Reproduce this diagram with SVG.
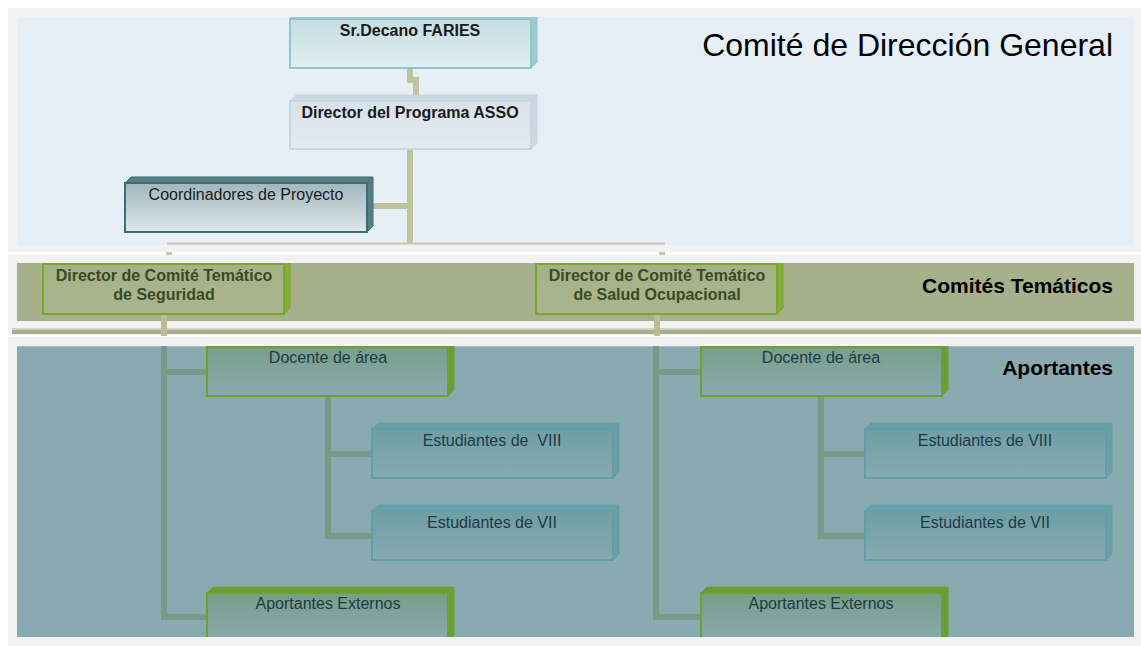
<svg xmlns="http://www.w3.org/2000/svg" width="1141" height="646" viewBox="0 0 1141 646">
<style>
text{font-family:"Liberation Sans",Arial,sans-serif;}
.nt{font-size:16px;text-anchor:middle;}
.b{font-weight:bold;}
.dark{fill:#1a1a1a;}
.olv{fill:#3a4a24;}
.tl{fill:#1d3b45;}
.band-label{font-weight:bold;font-size:21px;text-anchor:end;fill:#000;}
.c1{stroke:#bfc39d;stroke-width:6;fill:none;}
.c3{stroke:#799a86;stroke-width:6;fill:none;}
.dec-f{fill:url(#gDec);stroke:#8cc6cf;stroke-width:2;}
.dec-s{fill:#9ecad2;stroke:#8cc6cf;stroke-width:1;}
.asso-f{fill:url(#gAsso);stroke:#c7d6df;stroke-width:2;}
.asso-s{fill:#cbd9e1;stroke:#c7d6df;stroke-width:1;}
.co-f{fill:url(#gCo);stroke:#3f6d73;stroke-width:2;}
.co-s{fill:#557f85;stroke:#3f6d73;stroke-width:1;}
.dc-f{fill:url(#gDc);stroke:#76a926;stroke-width:2;}
.dc-s{fill:#86ad3a;stroke:#76a926;stroke-width:1;}
.dg-f{fill:url(#gDg);stroke:#6aa22f;stroke-width:2;}
.dg-s{fill:#699e36;stroke:#6aa22f;stroke-width:1;}
.es-f{fill:url(#gEs);stroke:#5e9fa9;stroke-width:2;}
.es-s{fill:#6a9fa7;stroke:#5e9fa9;stroke-width:1;}
</style>
<defs>
<linearGradient id="gDec" x1="0" y1="0" x2="0" y2="1"><stop offset="0" stop-color="#c3dde3"/><stop offset="1" stop-color="#e2eef1"/></linearGradient>
<linearGradient id="gAsso" x1="0" y1="0" x2="0" y2="1"><stop offset="0" stop-color="#d8e2ea"/><stop offset="1" stop-color="#e4ebf1"/></linearGradient>
<linearGradient id="gCo" x1="0" y1="0" x2="0" y2="1"><stop offset="0" stop-color="#a0b7bd"/><stop offset="1" stop-color="#dfe7ec"/></linearGradient>
<linearGradient id="gDc" x1="0" y1="0" x2="0" y2="1"><stop offset="0" stop-color="#a4b285"/><stop offset="1" stop-color="#abb690"/></linearGradient>
<linearGradient id="gDg" x1="0" y1="0" x2="0" y2="1"><stop offset="0" stop-color="#779f8a"/><stop offset="1" stop-color="#8aaaae"/></linearGradient>
<linearGradient id="gEs" x1="0" y1="0" x2="0" y2="1"><stop offset="0" stop-color="#6e9ea5"/><stop offset="1" stop-color="#88aab0"/></linearGradient>
<clipPath id="clip1"><rect x="17" y="17" width="1117" height="228"/></clipPath>
<clipPath id="clip2"><rect x="17" y="263" width="1117" height="58"/></clipPath>
<clipPath id="clip3"><rect x="17" y="346" width="1117" height="291"/></clipPath>
</defs>

<g id="background">
<rect x="0" y="0" width="1141" height="646" fill="#ffffff"/>
<rect x="8" y="8" width="1133" height="638" fill="#f2f2f2"/>
<rect x="17" y="17" width="1117" height="228" fill="#e6eef6"/>
<rect x="8" y="252" width="1133" height="3" fill="#ffffff"/>
<rect x="17" y="263" width="1117" height="58" fill="#a6b08b"/>
<rect x="12" y="328" width="1129" height="2" fill="#d2d5c4"/>
<rect x="12" y="330" width="1129" height="4" fill="#a9ae90"/>
<rect x="8" y="335" width="1133" height="2" fill="#ffffff"/>
<rect x="17" y="346" width="1117" height="291" fill="#89aab1"/>
<rect x="17" y="346" width="1117" height="1" fill="#a8c0c5"/>
</g>

<g id="band-labels">
<text x="1113" y="56" font-size="32" text-anchor="end" fill="#000">Comité de Dirección General</text>
<text class="band-label" x="1113" y="293">Comités Temáticos</text>
<text class="band-label" x="1113" y="375">Aportantes</text>
</g>

<g id="connectors">
<path class="c1" d="M410,68 V80 H416 V101"/>
<path class="c1" d="M410,149 V244"/>
<path class="c1" d="M367,206 H410"/>
<path d="M167,243.5 H665" stroke="#c3c7a4" stroke-width="2" fill="none"/>
<rect x="166" y="252" width="6" height="3" fill="#c8c9a6"/>
<rect x="659" y="252" width="6" height="3" fill="#c8c9a6"/>
<path d="M164,314 V336" stroke="#bcbd92" stroke-width="6" fill="none"/>
<path d="M657,314 V336" stroke="#bcbd92" stroke-width="6" fill="none"/>
<path class="c3" d="M164,346 V617 H207"/>
<path class="c3" d="M164,372 H207"/>
<path class="c3" d="M328,396 V536 H372"/>
<path class="c3" d="M328,454 H372"/>
<path class="c3" d="M656,346 V617 H701"/>
<path class="c3" d="M656,372 H701"/>
<path class="c3" d="M821,396 V536 H865"/>
<path class="c3" d="M821,454 H865"/>
</g>

<g id="node-decano" clip-path="url(#clip1)">
<polygon class="dec-s" points="290,19 296,13 537,13 531,19"/>
<polygon class="dec-s" points="531,19 537,13 537,62 531,68"/>
<rect class="dec-f" x="290" y="19" width="241" height="49"/>
<text class="nt b dark" x="410" y="36">Sr.Decano FARIES</text>
</g>

<g id="node-director-asso" clip-path="url(#clip1)">
<polygon class="asso-s" points="290,101 296,95 537,95 531,101"/>
<polygon class="asso-s" points="531,101 537,95 537,143 531,149"/>
<rect class="asso-f" x="290" y="101" width="241" height="48"/>
<text class="nt b dark" x="410" y="118">Director del Programa ASSO</text>
</g>

<g id="node-coordinadores" clip-path="url(#clip1)">
<polygon class="co-s" points="125,183 131,177 373,177 367,183"/>
<polygon class="co-s" points="367,183 373,177 373,226 367,232"/>
<rect class="co-f" x="125" y="183" width="242" height="49"/>
<text class="nt dark" x="246" y="200">Coordinadores de Proyecto</text>
</g>

<g id="node-dir-seguridad" clip-path="url(#clip2)">
<polygon class="dc-s" points="43,264 49,258 290,258 284,264"/>
<polygon class="dc-s" points="284,264 290,258 290,308 284,314"/>
<rect class="dc-f" x="43" y="264" width="241" height="50"/>
<text class="nt b olv" x="164" y="281"><tspan x="164">Director de Comité Temático</tspan><tspan x="164" dy="19">de Seguridad</tspan></text>
</g>

<g id="node-dir-salud" clip-path="url(#clip2)">
<polygon class="dc-s" points="536,264 542,258 783,258 777,264"/>
<polygon class="dc-s" points="777,264 783,258 783,308 777,314"/>
<rect class="dc-f" x="536" y="264" width="241" height="50"/>
<text class="nt b olv" x="657" y="281"><tspan x="657">Director de Comité Temático</tspan><tspan x="657" dy="19">de Salud Ocupacional</tspan></text>
</g>

<g id="node-docente-left" clip-path="url(#clip3)">
<polygon class="dg-s" points="207,347 213,341 454,341 448,347"/>
<polygon class="dg-s" points="448,347 454,341 454,390 448,396"/>
<rect class="dg-f" x="207" y="347" width="241" height="49"/>
<text class="nt tl" x="328" y="363">Docente de área</text>
</g>

<g id="node-est8-left" clip-path="url(#clip3)">
<polygon class="es-s" points="372,429 378,423 619,423 613,429"/>
<polygon class="es-s" points="613,429 619,423 619,472 613,478"/>
<rect class="es-f" x="372" y="429" width="241" height="49"/>
<text class="nt tl" x="492" y="446" xml:space="preserve">Estudiantes de  VIII</text>
</g>

<g id="node-est7-left" clip-path="url(#clip3)">
<polygon class="es-s" points="372,511 378,505 619,505 613,511"/>
<polygon class="es-s" points="613,511 619,505 619,554 613,560"/>
<rect class="es-f" x="372" y="511" width="241" height="49"/>
<text class="nt tl" x="492" y="528">Estudiantes de VII</text>
</g>

<g id="node-aportantes-left" clip-path="url(#clip3)">
<polygon class="dg-s" points="207,593 213,587 454,587 448,593"/>
<polygon class="dg-s" points="448,593 454,587 454,636 448,642"/>
<rect class="dg-f" x="207" y="593" width="241" height="49"/>
<text class="nt tl" x="328" y="609">Aportantes Externos</text>
</g>

<g id="node-docente-right" clip-path="url(#clip3)">
<polygon class="dg-s" points="701,347 707,341 948,341 942,347"/>
<polygon class="dg-s" points="942,347 948,341 948,390 942,396"/>
<rect class="dg-f" x="701" y="347" width="241" height="49"/>
<text class="nt tl" x="821" y="363">Docente de área</text>
</g>

<g id="node-est8-right" clip-path="url(#clip3)">
<polygon class="es-s" points="865,429 871,423 1112,423 1106,429"/>
<polygon class="es-s" points="1106,429 1112,423 1112,472 1106,478"/>
<rect class="es-f" x="865" y="429" width="241" height="49"/>
<text class="nt tl" x="985" y="446">Estudiantes de VIII</text>
</g>

<g id="node-est7-right" clip-path="url(#clip3)">
<polygon class="es-s" points="865,511 871,505 1112,505 1106,511"/>
<polygon class="es-s" points="1106,511 1112,505 1112,554 1106,560"/>
<rect class="es-f" x="865" y="511" width="241" height="49"/>
<text class="nt tl" x="985" y="528">Estudiantes de VII</text>
</g>

<g id="node-aportantes-right" clip-path="url(#clip3)">
<polygon class="dg-s" points="701,593 707,587 948,587 942,593"/>
<polygon class="dg-s" points="942,593 948,587 948,636 942,642"/>
<rect class="dg-f" x="701" y="593" width="241" height="49"/>
<text class="nt tl" x="821" y="609">Aportantes Externos</text>
</g>
</svg>
